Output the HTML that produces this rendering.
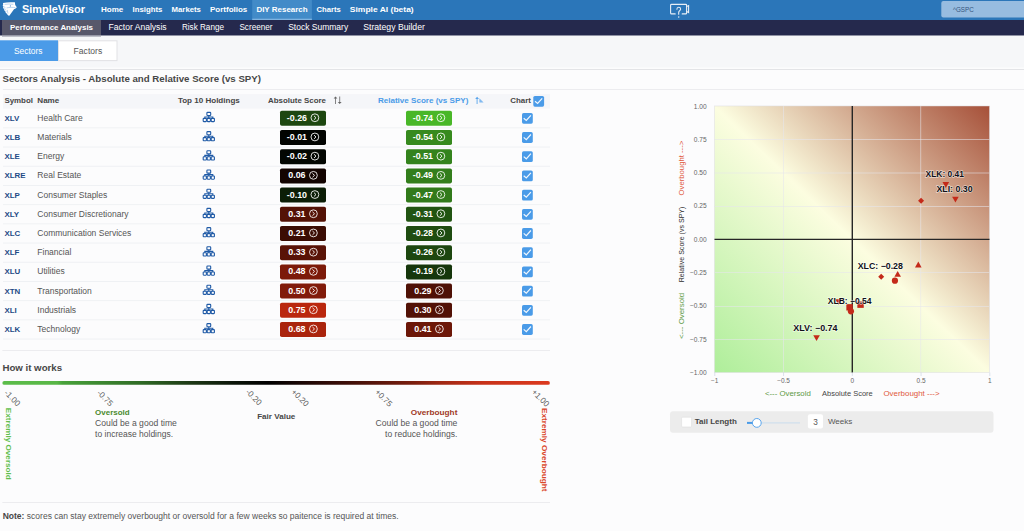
<!DOCTYPE html>
<html><head><meta charset="utf-8"><title>SimpleVisor - Performance Analysis</title>
<style>
html,body{margin:0;padding:0;width:1024px;height:531px;overflow:hidden;background:#fcfcfd;}
svg{position:absolute;left:0;top:0;display:block;font-family:"Liberation Sans", sans-serif;}
svg text{font-family:"Liberation Sans", sans-serif;}
</style></head><body>
<svg width="1024" height="531" viewBox="0 0 1024 531">
<rect x="0.00" y="0.00" width="1024.00" height="531.00" fill="#fcfcfd"/>
<rect x="0.00" y="0.00" width="1024.00" height="20.00" fill="#2b76b9"/>
<rect x="252.20" y="0.00" width="59.70" height="18.60" fill="#428bc8"/>
<rect x="252.20" y="18.60" width="59.70" height="1.40" fill="#7fb3e0"/>
<path d="M3.0,2.9 C6.5,2.1 11,2.0 14.9,2.3 L15.2,5.0 L16.8,7.3 L15.6,8.4 L14.0,9.2 L9.3,15.7 L8.2,15.6 L6.6,13.6 L5.6,12.6 L5.2,11.2 L4.2,10.2 L3.9,8.9 L3.0,7.8 L3.3,6.6 L2.7,5.4 L3.2,4.5 Z" fill="#ffffff"/>
<path d="M4.6,4.4 C7.5,3.9 10.5,3.9 13.4,4.3 M6.6,7.9 C9.5,7.3 12.8,7.1 15.5,7.7 M7.2,9.9 L8.0,13.6 M3.3,6.6 L5.3,7.4 M3.9,8.9 L5.8,9.4 M5.2,11.2 L6.6,11.3" stroke="#8fb8e3" stroke-width="0.6" fill="none"/><circle cx="10.4" cy="5.9" r="0.6" fill="#5e93cf"/>
<text x="22.00" y="13.20" font-size="11.4" fill="#ffffff" font-weight="bold" textLength="63.00" lengthAdjust="spacingAndGlyphs">SimpleVisor</text>
<text x="100.90" y="12.20" font-size="8.1" fill="#ffffff" font-weight="bold" textLength="22.40" lengthAdjust="spacingAndGlyphs">Home</text>
<text x="132.50" y="12.20" font-size="8.1" fill="#ffffff" font-weight="bold" textLength="29.80" lengthAdjust="spacingAndGlyphs">Insights</text>
<text x="171.60" y="12.20" font-size="8.1" fill="#ffffff" font-weight="bold" textLength="29.30" lengthAdjust="spacingAndGlyphs">Markets</text>
<text x="210.00" y="12.20" font-size="8.1" fill="#ffffff" font-weight="bold" textLength="37.30" lengthAdjust="spacingAndGlyphs">Portfolios</text>
<text x="256.40" y="12.20" font-size="8.1" fill="#ffffff" font-weight="bold" textLength="51.30" lengthAdjust="spacingAndGlyphs">DIY Research</text>
<text x="316.60" y="12.20" font-size="8.1" fill="#ffffff" font-weight="bold" textLength="24.20" lengthAdjust="spacingAndGlyphs">Charts</text>
<text x="349.80" y="12.20" font-size="8.1" fill="#ffffff" font-weight="bold" textLength="63.90" lengthAdjust="spacingAndGlyphs">Simple AI (beta)</text>
<g fill="none" stroke="#e8eef6" stroke-width="1.1" stroke-linecap="round"><path d="M675.2,13.9 L671.6,13.9 Q670.6,13.9 670.6,12.9 L670.6,5.3 Q670.6,4.4 671.6,4.4 L685.6,4.4 Q686.6,4.4 686.6,5.3 L686.6,12.9 Q686.6,13.9 685.6,13.9 L682.2,13.9"/><path d="M686.6,6.6 L688.6,5.6 L688.6,12.6 L686.6,11.6"/><path d="M676.9,9.2 Q676.9,7.2 678.7,7.2 Q680.6,7.2 680.6,9.1 Q680.6,10.3 679.4,10.9 Q678.7,11.3 678.7,12.4 L678.7,14.3"/></g><circle cx="678.7" cy="16.9" r="0.75" fill="#e8eef6"/>
<rect x="941.30" y="1.00" width="90.00" height="16.50" fill="#97bce0" rx="2"/>
<text x="953.00" y="12.10" font-size="6.8" fill="#34557d" textLength="20.80" lengthAdjust="spacingAndGlyphs">^GSPC</text>
<rect x="0.00" y="20.00" width="1024.00" height="15.70" fill="#25294d"/>
<rect x="2.00" y="20.00" width="99.00" height="15.70" fill="#58586b"/>
<text x="10.00" y="30.30" font-size="8" fill="#ffffff" font-weight="bold" textLength="83.00" lengthAdjust="spacingAndGlyphs">Performance Analysis</text>
<text x="108.50" y="30.30" font-size="8.3" fill="#ffffff" textLength="58.10" lengthAdjust="spacingAndGlyphs">Factor Analysis</text>
<text x="181.90" y="30.30" font-size="8.3" fill="#ffffff" textLength="42.10" lengthAdjust="spacingAndGlyphs">Risk Range</text>
<text x="239.40" y="30.30" font-size="8.3" fill="#ffffff" textLength="33.20" lengthAdjust="spacingAndGlyphs">Screener</text>
<text x="288.20" y="30.30" font-size="8.3" fill="#ffffff" textLength="60.00" lengthAdjust="spacingAndGlyphs">Stock Summary</text>
<text x="363.20" y="30.30" font-size="8.3" fill="#ffffff" textLength="61.70" lengthAdjust="spacingAndGlyphs">Strategy Builder</text>
<rect x="0.00" y="35.70" width="1024.00" height="31.80" fill="#f6f7f9"/>
<rect x="2.00" y="35.70" width="99.00" height="1.20" fill="#b9b9c2"/>
<rect x="0.00" y="69.00" width="1024.00" height="1.00" fill="#e3e4e7"/>
<rect x="0.00" y="40.30" width="58.00" height="20.70" fill="#4b9be8"/>
<rect x="58.50" y="40.80" width="58.50" height="19.80" fill="#ffffff" stroke="#e1e2e5" stroke-width="1"/>
<text x="14.00" y="53.80" font-size="8.5" fill="#ffffff" textLength="28.50" lengthAdjust="spacingAndGlyphs">Sectors</text>
<text x="73.60" y="53.80" font-size="8.5" fill="#555555" textLength="28.60" lengthAdjust="spacingAndGlyphs">Factors</text>
<text x="2.50" y="81.80" font-size="9.1" fill="#474747" font-weight="bold" textLength="258.50" lengthAdjust="spacingAndGlyphs">Sectors Analysis - Absolute and Relative Score (vs SPY)</text>
<rect x="2.90" y="89.00" width="1021.10" height="1.00" fill="#ececef"/>
<rect x="3.00" y="94.10" width="547.00" height="14.50" fill="#f5f6f9"/>
<text x="4.40" y="103.10" font-size="8" fill="#454545" font-weight="bold" textLength="28.60" lengthAdjust="spacingAndGlyphs">Symbol</text>
<text x="37.30" y="103.10" font-size="8" fill="#454545" font-weight="bold" textLength="22.00" lengthAdjust="spacingAndGlyphs">Name</text>
<text x="177.90" y="103.10" font-size="8" fill="#454545" font-weight="bold" textLength="61.90" lengthAdjust="spacingAndGlyphs">Top 10 Holdings</text>
<text x="268.00" y="103.10" font-size="8" fill="#454545" font-weight="bold" textLength="58.00" lengthAdjust="spacingAndGlyphs">Absolute Score</text>
<text x="377.90" y="103.10" font-size="8" fill="#4a9be8" font-weight="bold" textLength="90.50" lengthAdjust="spacingAndGlyphs">Relative Score (vs SPY)</text>
<text x="510.20" y="103.10" font-size="8" fill="#454545" font-weight="bold" textLength="20.70" lengthAdjust="spacingAndGlyphs">Chart</text>
<g stroke="#666" stroke-width="0.8" fill="#666"><line x1="335.5" y1="97.5" x2="335.5" y2="104"/><path d="M333.6,98.6 L335.5,96.4 L337.4,98.6 Z" stroke="none"/><line x1="339.7" y1="96.5" x2="339.7" y2="103"/><path d="M337.8,101.9 L339.7,104.1 L341.6,101.9 Z" stroke="none"/></g>
<g stroke="#5aa5ec" stroke-width="0.9" fill="#5aa5ec"><line x1="477.1" y1="97.8" x2="477.1" y2="104"/><path d="M475.2,98.9 L477.1,96.7 L479,98.9 Z" stroke="none"/><path d="M479.4,102.6 L479.4,98.2 L483.6,102.6 Z" stroke="none" opacity="0.75"/></g>
<rect x="533.30" y="95.90" width="10.80" height="10.80" fill="#4a9be8" rx="1.6"/>
<path d="M535.00,101.20 L537.60,103.40 L542.20,98.30" stroke="#ffffff" stroke-width="1.2" fill="none" opacity="0.92"/>
<text x="4.40" y="120.80" font-size="7.9" fill="#1f4a86" font-weight="bold">XLV</text>
<text x="37.30" y="120.80" font-size="8.5" fill="#555555">Health Care</text>
<g fill="none" stroke="#1f5aa6" stroke-width="1.1"><rect x="206.90" y="112.40" width="3.8" height="3.1" rx="0.7"/><rect x="203.20" y="118.40" width="3.2" height="3.2" rx="0.6"/><rect x="207.20" y="118.40" width="3.2" height="3.2" rx="0.6"/><rect x="211.20" y="118.40" width="3.2" height="3.2" rx="0.6"/><path d="M208.80,115.70 L208.80,118.40 M204.80,118.40 L204.80,117.00 L212.80,117.00 L212.80,118.40"/></g>
<rect x="280.00" y="110.80" width="46.00" height="15.00" fill="#1d4710" rx="1.8"/>
<text x="286.81" y="120.70" font-size="8.9" fill="#ffffff" font-weight="bold">-0.26</text>
<circle cx="314.89" cy="117.75" r="3.9" stroke="#ffffff" stroke-width="0.85" fill="none"/><path d="M313.99,115.85 L315.99,117.75 L313.99,119.65" stroke="#ffffff" stroke-width="0.9" fill="none"/>
<rect x="406.00" y="110.80" width="46.00" height="15.00" fill="#49b728" rx="1.8"/>
<text x="412.81" y="120.70" font-size="8.9" fill="#ffffff" font-weight="bold">-0.74</text>
<circle cx="440.89" cy="117.75" r="3.9" stroke="#ffffff" stroke-width="0.85" fill="none"/><path d="M439.99,115.85 L441.99,117.75 L439.99,119.65" stroke="#ffffff" stroke-width="0.9" fill="none"/>
<rect x="522.00" y="112.90" width="10.80" height="10.80" fill="#4a9be8" rx="1.6"/>
<path d="M523.70,118.20 L526.30,120.40 L530.90,115.30" stroke="#ffffff" stroke-width="1.2" fill="none" opacity="0.92"/>
<rect x="3.00" y="127.40" width="547.00" height="0.90" fill="#eef0f3"/>
<text x="4.40" y="140.00" font-size="7.9" fill="#1f4a86" font-weight="bold">XLB</text>
<text x="37.30" y="140.00" font-size="8.5" fill="#555555">Materials</text>
<g fill="none" stroke="#1f5aa6" stroke-width="1.1"><rect x="206.90" y="131.60" width="3.8" height="3.1" rx="0.7"/><rect x="203.20" y="137.60" width="3.2" height="3.2" rx="0.6"/><rect x="207.20" y="137.60" width="3.2" height="3.2" rx="0.6"/><rect x="211.20" y="137.60" width="3.2" height="3.2" rx="0.6"/><path d="M208.80,134.90 L208.80,137.60 M204.80,137.60 L204.80,136.20 L212.80,136.20 L212.80,137.60"/></g>
<rect x="280.00" y="130.00" width="46.00" height="15.00" fill="#020401" rx="1.8"/>
<text x="286.81" y="139.90" font-size="8.9" fill="#ffffff" font-weight="bold">-0.01</text>
<circle cx="314.89" cy="136.95" r="3.9" stroke="#ffffff" stroke-width="0.85" fill="none"/><path d="M313.99,135.05 L315.99,136.95 L313.99,138.85" stroke="#ffffff" stroke-width="0.9" fill="none"/>
<rect x="406.00" y="130.00" width="46.00" height="15.00" fill="#378a1e" rx="1.8"/>
<text x="412.81" y="139.90" font-size="8.9" fill="#ffffff" font-weight="bold">-0.54</text>
<circle cx="440.89" cy="136.95" r="3.9" stroke="#ffffff" stroke-width="0.85" fill="none"/><path d="M439.99,135.05 L441.99,136.95 L439.99,138.85" stroke="#ffffff" stroke-width="0.9" fill="none"/>
<rect x="522.00" y="132.10" width="10.80" height="10.80" fill="#4a9be8" rx="1.6"/>
<path d="M523.70,137.40 L526.30,139.60 L530.90,134.50" stroke="#ffffff" stroke-width="1.2" fill="none" opacity="0.92"/>
<rect x="3.00" y="146.60" width="547.00" height="0.90" fill="#eef0f3"/>
<text x="4.40" y="159.20" font-size="7.9" fill="#1f4a86" font-weight="bold">XLE</text>
<text x="37.30" y="159.20" font-size="8.5" fill="#555555">Energy</text>
<g fill="none" stroke="#1f5aa6" stroke-width="1.1"><rect x="206.90" y="150.80" width="3.8" height="3.1" rx="0.7"/><rect x="203.20" y="156.80" width="3.2" height="3.2" rx="0.6"/><rect x="207.20" y="156.80" width="3.2" height="3.2" rx="0.6"/><rect x="211.20" y="156.80" width="3.2" height="3.2" rx="0.6"/><path d="M208.80,154.10 L208.80,156.80 M204.80,156.80 L204.80,155.40 L212.80,155.40 L212.80,156.80"/></g>
<rect x="280.00" y="149.20" width="46.00" height="15.00" fill="#030702" rx="1.8"/>
<text x="286.81" y="159.10" font-size="8.9" fill="#ffffff" font-weight="bold">-0.02</text>
<circle cx="314.89" cy="156.15" r="3.9" stroke="#ffffff" stroke-width="0.85" fill="none"/><path d="M313.99,154.25 L315.99,156.15 L313.99,158.05" stroke="#ffffff" stroke-width="0.9" fill="none"/>
<rect x="406.00" y="149.20" width="46.00" height="15.00" fill="#34831d" rx="1.8"/>
<text x="412.81" y="159.10" font-size="8.9" fill="#ffffff" font-weight="bold">-0.51</text>
<circle cx="440.89" cy="156.15" r="3.9" stroke="#ffffff" stroke-width="0.85" fill="none"/><path d="M439.99,154.25 L441.99,156.15 L439.99,158.05" stroke="#ffffff" stroke-width="0.9" fill="none"/>
<rect x="522.00" y="151.30" width="10.80" height="10.80" fill="#4a9be8" rx="1.6"/>
<path d="M523.70,156.60 L526.30,158.80 L530.90,153.70" stroke="#ffffff" stroke-width="1.2" fill="none" opacity="0.92"/>
<rect x="3.00" y="165.80" width="547.00" height="0.90" fill="#eef0f3"/>
<text x="4.40" y="178.40" font-size="7.9" fill="#1f4a86" font-weight="bold">XLRE</text>
<text x="37.30" y="178.40" font-size="8.5" fill="#555555">Real Estate</text>
<g fill="none" stroke="#1f5aa6" stroke-width="1.1"><rect x="206.90" y="170.00" width="3.8" height="3.1" rx="0.7"/><rect x="203.20" y="176.00" width="3.2" height="3.2" rx="0.6"/><rect x="207.20" y="176.00" width="3.2" height="3.2" rx="0.6"/><rect x="211.20" y="176.00" width="3.2" height="3.2" rx="0.6"/><path d="M208.80,173.30 L208.80,176.00 M204.80,176.00 L204.80,174.60 L212.80,174.60 L212.80,176.00"/></g>
<rect x="280.00" y="168.40" width="46.00" height="15.00" fill="#130401" rx="1.8"/>
<text x="288.29" y="178.30" font-size="8.9" fill="#ffffff" font-weight="bold">0.06</text>
<circle cx="313.41" cy="175.35" r="3.9" stroke="#ffffff" stroke-width="0.85" fill="none"/><path d="M312.51,173.45 L314.51,175.35 L312.51,177.25" stroke="#ffffff" stroke-width="0.9" fill="none"/>
<rect x="406.00" y="168.40" width="46.00" height="15.00" fill="#337e1c" rx="1.8"/>
<text x="412.81" y="178.30" font-size="8.9" fill="#ffffff" font-weight="bold">-0.49</text>
<circle cx="440.89" cy="175.35" r="3.9" stroke="#ffffff" stroke-width="0.85" fill="none"/><path d="M439.99,173.45 L441.99,175.35 L439.99,177.25" stroke="#ffffff" stroke-width="0.9" fill="none"/>
<rect x="522.00" y="170.50" width="10.80" height="10.80" fill="#4a9be8" rx="1.6"/>
<path d="M523.70,175.80 L526.30,178.00 L530.90,172.90" stroke="#ffffff" stroke-width="1.2" fill="none" opacity="0.92"/>
<rect x="3.00" y="185.00" width="547.00" height="0.90" fill="#eef0f3"/>
<text x="4.40" y="197.60" font-size="7.9" fill="#1f4a86" font-weight="bold">XLP</text>
<text x="37.30" y="197.60" font-size="8.5" fill="#555555">Consumer Staples</text>
<g fill="none" stroke="#1f5aa6" stroke-width="1.1"><rect x="206.90" y="189.20" width="3.8" height="3.1" rx="0.7"/><rect x="203.20" y="195.20" width="3.2" height="3.2" rx="0.6"/><rect x="207.20" y="195.20" width="3.2" height="3.2" rx="0.6"/><rect x="211.20" y="195.20" width="3.2" height="3.2" rx="0.6"/><path d="M208.80,192.50 L208.80,195.20 M204.80,195.20 L204.80,193.80 L212.80,193.80 L212.80,195.20"/></g>
<rect x="280.00" y="187.60" width="46.00" height="15.00" fill="#0c1e07" rx="1.8"/>
<text x="286.81" y="197.50" font-size="8.9" fill="#ffffff" font-weight="bold">-0.10</text>
<circle cx="314.89" cy="194.55" r="3.9" stroke="#ffffff" stroke-width="0.85" fill="none"/><path d="M313.99,192.65 L315.99,194.55 L313.99,196.45" stroke="#ffffff" stroke-width="0.9" fill="none"/>
<rect x="406.00" y="187.60" width="46.00" height="15.00" fill="#317a1b" rx="1.8"/>
<text x="412.81" y="197.50" font-size="8.9" fill="#ffffff" font-weight="bold">-0.47</text>
<circle cx="440.89" cy="194.55" r="3.9" stroke="#ffffff" stroke-width="0.85" fill="none"/><path d="M439.99,192.65 L441.99,194.55 L439.99,196.45" stroke="#ffffff" stroke-width="0.9" fill="none"/>
<rect x="522.00" y="189.70" width="10.80" height="10.80" fill="#4a9be8" rx="1.6"/>
<path d="M523.70,195.00 L526.30,197.20 L530.90,192.10" stroke="#ffffff" stroke-width="1.2" fill="none" opacity="0.92"/>
<rect x="3.00" y="204.20" width="547.00" height="0.90" fill="#eef0f3"/>
<text x="4.40" y="216.80" font-size="7.9" fill="#1f4a86" font-weight="bold">XLY</text>
<text x="37.30" y="216.80" font-size="8.5" fill="#555555">Consumer Discretionary</text>
<g fill="none" stroke="#1f5aa6" stroke-width="1.1"><rect x="206.90" y="208.40" width="3.8" height="3.1" rx="0.7"/><rect x="203.20" y="214.40" width="3.2" height="3.2" rx="0.6"/><rect x="207.20" y="214.40" width="3.2" height="3.2" rx="0.6"/><rect x="211.20" y="214.40" width="3.2" height="3.2" rx="0.6"/><path d="M208.80,211.70 L208.80,214.40 M204.80,214.40 L204.80,213.00 L212.80,213.00 L212.80,214.40"/></g>
<rect x="280.00" y="206.80" width="46.00" height="15.00" fill="#541206" rx="1.8"/>
<text x="288.29" y="216.70" font-size="8.9" fill="#ffffff" font-weight="bold">0.31</text>
<circle cx="313.41" cy="213.75" r="3.9" stroke="#ffffff" stroke-width="0.85" fill="none"/><path d="M312.51,211.85 L314.51,213.75 L312.51,215.65" stroke="#ffffff" stroke-width="0.9" fill="none"/>
<rect x="406.00" y="206.80" width="46.00" height="15.00" fill="#215412" rx="1.8"/>
<text x="412.81" y="216.70" font-size="8.9" fill="#ffffff" font-weight="bold">-0.31</text>
<circle cx="440.89" cy="213.75" r="3.9" stroke="#ffffff" stroke-width="0.85" fill="none"/><path d="M439.99,211.85 L441.99,213.75 L439.99,215.65" stroke="#ffffff" stroke-width="0.9" fill="none"/>
<rect x="522.00" y="208.90" width="10.80" height="10.80" fill="#4a9be8" rx="1.6"/>
<path d="M523.70,214.20 L526.30,216.40 L530.90,211.30" stroke="#ffffff" stroke-width="1.2" fill="none" opacity="0.92"/>
<rect x="3.00" y="223.40" width="547.00" height="0.90" fill="#eef0f3"/>
<text x="4.40" y="236.00" font-size="7.9" fill="#1f4a86" font-weight="bold">XLC</text>
<text x="37.30" y="236.00" font-size="8.5" fill="#555555">Communication Services</text>
<g fill="none" stroke="#1f5aa6" stroke-width="1.1"><rect x="206.90" y="227.60" width="3.8" height="3.1" rx="0.7"/><rect x="203.20" y="233.60" width="3.2" height="3.2" rx="0.6"/><rect x="207.20" y="233.60" width="3.2" height="3.2" rx="0.6"/><rect x="211.20" y="233.60" width="3.2" height="3.2" rx="0.6"/><path d="M208.80,230.90 L208.80,233.60 M204.80,233.60 L204.80,232.20 L212.80,232.20 L212.80,233.60"/></g>
<rect x="280.00" y="226.00" width="46.00" height="15.00" fill="#3b0d04" rx="1.8"/>
<text x="288.29" y="235.90" font-size="8.9" fill="#ffffff" font-weight="bold">0.21</text>
<circle cx="313.41" cy="232.95" r="3.9" stroke="#ffffff" stroke-width="0.85" fill="none"/><path d="M312.51,231.05 L314.51,232.95 L312.51,234.85" stroke="#ffffff" stroke-width="0.9" fill="none"/>
<rect x="406.00" y="226.00" width="46.00" height="15.00" fill="#1f4c11" rx="1.8"/>
<text x="412.81" y="235.90" font-size="8.9" fill="#ffffff" font-weight="bold">-0.28</text>
<circle cx="440.89" cy="232.95" r="3.9" stroke="#ffffff" stroke-width="0.85" fill="none"/><path d="M439.99,231.05 L441.99,232.95 L439.99,234.85" stroke="#ffffff" stroke-width="0.9" fill="none"/>
<rect x="522.00" y="228.10" width="10.80" height="10.80" fill="#4a9be8" rx="1.6"/>
<path d="M523.70,233.40 L526.30,235.60 L530.90,230.50" stroke="#ffffff" stroke-width="1.2" fill="none" opacity="0.92"/>
<rect x="3.00" y="242.60" width="547.00" height="0.90" fill="#eef0f3"/>
<text x="4.40" y="255.20" font-size="7.9" fill="#1f4a86" font-weight="bold">XLF</text>
<text x="37.30" y="255.20" font-size="8.5" fill="#555555">Financial</text>
<g fill="none" stroke="#1f5aa6" stroke-width="1.1"><rect x="206.90" y="246.80" width="3.8" height="3.1" rx="0.7"/><rect x="203.20" y="252.80" width="3.2" height="3.2" rx="0.6"/><rect x="207.20" y="252.80" width="3.2" height="3.2" rx="0.6"/><rect x="211.20" y="252.80" width="3.2" height="3.2" rx="0.6"/><path d="M208.80,250.10 L208.80,252.80 M204.80,252.80 L204.80,251.40 L212.80,251.40 L212.80,252.80"/></g>
<rect x="280.00" y="245.20" width="46.00" height="15.00" fill="#591307" rx="1.8"/>
<text x="288.29" y="255.10" font-size="8.9" fill="#ffffff" font-weight="bold">0.33</text>
<circle cx="313.41" cy="252.15" r="3.9" stroke="#ffffff" stroke-width="0.85" fill="none"/><path d="M312.51,250.25 L314.51,252.15 L312.51,254.05" stroke="#ffffff" stroke-width="0.9" fill="none"/>
<rect x="406.00" y="245.20" width="46.00" height="15.00" fill="#1d4710" rx="1.8"/>
<text x="412.81" y="255.10" font-size="8.9" fill="#ffffff" font-weight="bold">-0.26</text>
<circle cx="440.89" cy="252.15" r="3.9" stroke="#ffffff" stroke-width="0.85" fill="none"/><path d="M439.99,250.25 L441.99,252.15 L439.99,254.05" stroke="#ffffff" stroke-width="0.9" fill="none"/>
<rect x="522.00" y="247.30" width="10.80" height="10.80" fill="#4a9be8" rx="1.6"/>
<path d="M523.70,252.60 L526.30,254.80 L530.90,249.70" stroke="#ffffff" stroke-width="1.2" fill="none" opacity="0.92"/>
<rect x="3.00" y="261.80" width="547.00" height="0.90" fill="#eef0f3"/>
<text x="4.40" y="274.40" font-size="7.9" fill="#1f4a86" font-weight="bold">XLU</text>
<text x="37.30" y="274.40" font-size="8.5" fill="#555555">Utilities</text>
<g fill="none" stroke="#1f5aa6" stroke-width="1.1"><rect x="206.90" y="266.00" width="3.8" height="3.1" rx="0.7"/><rect x="203.20" y="272.00" width="3.2" height="3.2" rx="0.6"/><rect x="207.20" y="272.00" width="3.2" height="3.2" rx="0.6"/><rect x="211.20" y="272.00" width="3.2" height="3.2" rx="0.6"/><path d="M208.80,269.30 L208.80,272.00 M204.80,272.00 L204.80,270.60 L212.80,270.60 L212.80,272.00"/></g>
<rect x="280.00" y="264.40" width="46.00" height="15.00" fill="#7c1a09" rx="1.8"/>
<text x="288.29" y="274.30" font-size="8.9" fill="#ffffff" font-weight="bold">0.48</text>
<circle cx="313.41" cy="271.35" r="3.9" stroke="#ffffff" stroke-width="0.85" fill="none"/><path d="M312.51,269.45 L314.51,271.35 L312.51,273.25" stroke="#ffffff" stroke-width="0.9" fill="none"/>
<rect x="406.00" y="264.40" width="46.00" height="15.00" fill="#16360c" rx="1.8"/>
<text x="412.81" y="274.30" font-size="8.9" fill="#ffffff" font-weight="bold">-0.19</text>
<circle cx="440.89" cy="271.35" r="3.9" stroke="#ffffff" stroke-width="0.85" fill="none"/><path d="M439.99,269.45 L441.99,271.35 L439.99,273.25" stroke="#ffffff" stroke-width="0.9" fill="none"/>
<rect x="522.00" y="266.50" width="10.80" height="10.80" fill="#4a9be8" rx="1.6"/>
<path d="M523.70,271.80 L526.30,274.00 L530.90,268.90" stroke="#ffffff" stroke-width="1.2" fill="none" opacity="0.92"/>
<rect x="3.00" y="281.00" width="547.00" height="0.90" fill="#eef0f3"/>
<text x="4.40" y="293.60" font-size="7.9" fill="#1f4a86" font-weight="bold">XTN</text>
<text x="37.30" y="293.60" font-size="8.5" fill="#555555">Transportation</text>
<g fill="none" stroke="#1f5aa6" stroke-width="1.1"><rect x="206.90" y="285.20" width="3.8" height="3.1" rx="0.7"/><rect x="203.20" y="291.20" width="3.2" height="3.2" rx="0.6"/><rect x="207.20" y="291.20" width="3.2" height="3.2" rx="0.6"/><rect x="211.20" y="291.20" width="3.2" height="3.2" rx="0.6"/><path d="M208.80,288.50 L208.80,291.20 M204.80,291.20 L204.80,289.80 L212.80,289.80 L212.80,291.20"/></g>
<rect x="280.00" y="283.60" width="46.00" height="15.00" fill="#811b0a" rx="1.8"/>
<text x="288.29" y="293.50" font-size="8.9" fill="#ffffff" font-weight="bold">0.50</text>
<circle cx="313.41" cy="290.55" r="3.9" stroke="#ffffff" stroke-width="0.85" fill="none"/><path d="M312.51,288.65 L314.51,290.55 L312.51,292.45" stroke="#ffffff" stroke-width="0.9" fill="none"/>
<rect x="406.00" y="283.60" width="46.00" height="15.00" fill="#4f1106" rx="1.8"/>
<text x="414.29" y="293.50" font-size="8.9" fill="#ffffff" font-weight="bold">0.29</text>
<circle cx="439.41" cy="290.55" r="3.9" stroke="#ffffff" stroke-width="0.85" fill="none"/><path d="M438.51,288.65 L440.51,290.55 L438.51,292.45" stroke="#ffffff" stroke-width="0.9" fill="none"/>
<rect x="522.00" y="285.70" width="10.80" height="10.80" fill="#4a9be8" rx="1.6"/>
<path d="M523.70,291.00 L526.30,293.20 L530.90,288.10" stroke="#ffffff" stroke-width="1.2" fill="none" opacity="0.92"/>
<rect x="3.00" y="300.20" width="547.00" height="0.90" fill="#eef0f3"/>
<text x="4.40" y="312.80" font-size="7.9" fill="#1f4a86" font-weight="bold">XLI</text>
<text x="37.30" y="312.80" font-size="8.5" fill="#555555">Industrials</text>
<g fill="none" stroke="#1f5aa6" stroke-width="1.1"><rect x="206.90" y="304.40" width="3.8" height="3.1" rx="0.7"/><rect x="203.20" y="310.40" width="3.2" height="3.2" rx="0.6"/><rect x="207.20" y="310.40" width="3.2" height="3.2" rx="0.6"/><rect x="211.20" y="310.40" width="3.2" height="3.2" rx="0.6"/><path d="M208.80,307.70 L208.80,310.40 M204.80,310.40 L204.80,309.00 L212.80,309.00 L212.80,310.40"/></g>
<rect x="280.00" y="302.80" width="46.00" height="15.00" fill="#ba270e" rx="1.8"/>
<text x="288.29" y="312.70" font-size="8.9" fill="#ffffff" font-weight="bold">0.75</text>
<circle cx="313.41" cy="309.75" r="3.9" stroke="#ffffff" stroke-width="0.85" fill="none"/><path d="M312.51,307.85 L314.51,309.75 L312.51,311.65" stroke="#ffffff" stroke-width="0.9" fill="none"/>
<rect x="406.00" y="302.80" width="46.00" height="15.00" fill="#521106" rx="1.8"/>
<text x="414.29" y="312.70" font-size="8.9" fill="#ffffff" font-weight="bold">0.30</text>
<circle cx="439.41" cy="309.75" r="3.9" stroke="#ffffff" stroke-width="0.85" fill="none"/><path d="M438.51,307.85 L440.51,309.75 L438.51,311.65" stroke="#ffffff" stroke-width="0.9" fill="none"/>
<rect x="522.00" y="304.90" width="10.80" height="10.80" fill="#4a9be8" rx="1.6"/>
<path d="M523.70,310.20 L526.30,312.40 L530.90,307.30" stroke="#ffffff" stroke-width="1.2" fill="none" opacity="0.92"/>
<rect x="3.00" y="319.40" width="547.00" height="0.90" fill="#eef0f3"/>
<text x="4.40" y="332.00" font-size="7.9" fill="#1f4a86" font-weight="bold">XLK</text>
<text x="37.30" y="332.00" font-size="8.5" fill="#555555">Technology</text>
<g fill="none" stroke="#1f5aa6" stroke-width="1.1"><rect x="206.90" y="323.60" width="3.8" height="3.1" rx="0.7"/><rect x="203.20" y="329.60" width="3.2" height="3.2" rx="0.6"/><rect x="207.20" y="329.60" width="3.2" height="3.2" rx="0.6"/><rect x="211.20" y="329.60" width="3.2" height="3.2" rx="0.6"/><path d="M208.80,326.90 L208.80,329.60 M204.80,329.60 L204.80,328.20 L212.80,328.20 L212.80,329.60"/></g>
<rect x="280.00" y="322.00" width="46.00" height="15.00" fill="#aa240d" rx="1.8"/>
<text x="288.29" y="331.90" font-size="8.9" fill="#ffffff" font-weight="bold">0.68</text>
<circle cx="313.41" cy="328.95" r="3.9" stroke="#ffffff" stroke-width="0.85" fill="none"/><path d="M312.51,327.05 L314.51,328.95 L312.51,330.85" stroke="#ffffff" stroke-width="0.9" fill="none"/>
<rect x="406.00" y="322.00" width="46.00" height="15.00" fill="#6c1708" rx="1.8"/>
<text x="414.29" y="331.90" font-size="8.9" fill="#ffffff" font-weight="bold">0.41</text>
<circle cx="439.41" cy="328.95" r="3.9" stroke="#ffffff" stroke-width="0.85" fill="none"/><path d="M438.51,327.05 L440.51,328.95 L438.51,330.85" stroke="#ffffff" stroke-width="0.9" fill="none"/>
<rect x="522.00" y="324.10" width="10.80" height="10.80" fill="#4a9be8" rx="1.6"/>
<path d="M523.70,329.40 L526.30,331.60 L530.90,326.50" stroke="#ffffff" stroke-width="1.2" fill="none" opacity="0.92"/>
<rect x="3.00" y="338.60" width="547.00" height="0.90" fill="#eef0f3"/>
<rect x="2.40" y="350.00" width="547.60" height="1.00" fill="#ececef"/>
<text x="2.40" y="371.10" font-size="9.3" fill="#474747" font-weight="bold" textLength="59.70" lengthAdjust="spacingAndGlyphs">How it works</text>
<defs><linearGradient id="hb" x1="0" x2="1" y1="0" y2="0"><stop offset="0" stop-color="#5cbd4a"/><stop offset="0.10" stop-color="#58b646"/><stop offset="0.11" stop-color="#48a23a"/><stop offset="0.25" stop-color="#306c26"/><stop offset="0.34" stop-color="#1e3a16"/><stop offset="0.42" stop-color="#0c160a"/><stop offset="0.485" stop-color="#000000"/><stop offset="0.53" stop-color="#140504"/><stop offset="0.63" stop-color="#3e0e08"/><stop offset="0.75" stop-color="#7a1e0e"/><stop offset="0.80" stop-color="#a02814"/><stop offset="0.88" stop-color="#c8321a"/><stop offset="1" stop-color="#dc3a1f"/></linearGradient></defs>
<rect x="2.40" y="381.00" width="547.50" height="3.80" fill="url(#hb)" rx="1.9"/>
<text x="0" y="0" font-size="8.2" fill="#5e5e5e" transform="translate(3.8,393.4) rotate(45)">-1.00</text>
<text x="0" y="0" font-size="8.2" fill="#5e5e5e" transform="translate(96.6,393.4) rotate(45)">-0.75</text>
<text x="0" y="0" font-size="8.2" fill="#5e5e5e" transform="translate(245.2,392.4) rotate(45)">-0.20</text>
<text x="0" y="0" font-size="8.2" fill="#5e5e5e" transform="translate(290.8,392.4) rotate(45)">+0.20</text>
<text x="0" y="0" font-size="8.2" fill="#5e5e5e" transform="translate(374.4,392.6) rotate(45)">+0.75</text>
<text x="0" y="0" font-size="8.2" fill="#5e5e5e" transform="translate(531.2,392.6) rotate(45)">+1.00</text>
<text x="0" y="0" font-size="8" font-weight="bold" fill="#62bf4d" transform="translate(6.0,407.8) rotate(90)" textLength="72" lengthAdjust="spacingAndGlyphs">Extremly Oversold</text>
<text x="0" y="0" font-size="8" font-weight="bold" fill="#da472a" transform="translate(542.0,408) rotate(90)" textLength="83.5" lengthAdjust="spacingAndGlyphs">Extremly Overbought</text>
<text x="95.10" y="415.00" font-size="8" fill="#4a8a2e" font-weight="bold" textLength="34.50" lengthAdjust="spacingAndGlyphs">Oversold</text>
<text x="95.10" y="426.30" font-size="8.5" fill="#555555" textLength="81.80" lengthAdjust="spacingAndGlyphs">Could be a good time</text>
<text x="95.10" y="436.80" font-size="8.5" fill="#555555">to increase holdings.</text>
<text x="257.20" y="419.00" font-size="8" fill="#474747" font-weight="bold" textLength="38.10" lengthAdjust="spacingAndGlyphs">Fair Value</text>
<text x="457.40" y="414.80" font-size="8" fill="#a0391f" font-weight="bold" text-anchor="end" textLength="46.60" lengthAdjust="spacingAndGlyphs">Overbought</text>
<text x="457.40" y="425.80" font-size="8.5" fill="#555555" text-anchor="end" textLength="81.80" lengthAdjust="spacingAndGlyphs">Could be a good time</text>
<text x="457.40" y="436.80" font-size="8.5" fill="#555555" text-anchor="end" textLength="72.40" lengthAdjust="spacingAndGlyphs">to reduce holdings.</text>
<rect x="2.40" y="502.00" width="547.60" height="1.00" fill="#ececef"/>
<text x="2.7" y="519" font-size="8.5" fill="#555555" textLength="396" lengthAdjust="spacingAndGlyphs"><tspan font-weight="bold" fill="#474747">Note:</tspan> scores can stay extremely overbought or oversold for a few weeks so paitence is required at times.</text>
<defs><linearGradient id="pg" gradientUnits="userSpaceOnUse" x1="714.5" y1="372.5" x2="980.77" y2="97.64"><stop offset="0" stop-color="#aeee9a"/><stop offset="0.5" stop-color="#fcfde0"/><stop offset="1" stop-color="#a65039"/></linearGradient></defs>
<rect x="714.50" y="106.00" width="275.00" height="266.50" fill="url(#pg)"/>
<line x1="783.50" y1="106.00" x2="783.50" y2="372.50" stroke="rgba(230,230,236,0.55)" stroke-width="1"/>
<line x1="920.70" y1="106.00" x2="920.70" y2="372.50" stroke="rgba(230,230,236,0.55)" stroke-width="1"/>
<line x1="714.50" y1="139.50" x2="989.50" y2="139.50" stroke="rgba(230,230,236,0.55)" stroke-width="1"/>
<line x1="714.50" y1="173.00" x2="989.50" y2="173.00" stroke="rgba(230,230,236,0.55)" stroke-width="1"/>
<line x1="714.50" y1="206.50" x2="989.50" y2="206.50" stroke="rgba(230,230,236,0.55)" stroke-width="1"/>
<line x1="714.50" y1="272.50" x2="989.50" y2="272.50" stroke="rgba(230,230,236,0.55)" stroke-width="1"/>
<line x1="714.50" y1="306.50" x2="989.50" y2="306.50" stroke="rgba(230,230,236,0.55)" stroke-width="1"/>
<line x1="714.50" y1="339.50" x2="989.50" y2="339.50" stroke="rgba(230,230,236,0.55)" stroke-width="1"/>
<rect x="714.50" y="106.00" width="275.00" height="266.50" fill="none" stroke="rgba(220,220,225,0.6)" stroke-width="0.8"/>
<line x1="852.30" y1="106.00" x2="852.30" y2="372.50" stroke="#262626" stroke-width="1.4"/>
<line x1="714.50" y1="239.40" x2="989.50" y2="239.40" stroke="#262626" stroke-width="1.4"/>
<text x="706.60" y="108.50" font-size="6.6" fill="#666666" text-anchor="end">1.00</text>
<text x="706.60" y="141.80" font-size="6.6" fill="#666666" text-anchor="end">0.75</text>
<text x="706.60" y="175.10" font-size="6.6" fill="#666666" text-anchor="end">0.50</text>
<text x="706.60" y="208.40" font-size="6.6" fill="#666666" text-anchor="end">0.25</text>
<text x="706.60" y="241.70" font-size="6.6" fill="#666666" text-anchor="end">0.00</text>
<text x="706.60" y="275.00" font-size="6.6" fill="#666666" text-anchor="end">−0.25</text>
<text x="706.60" y="308.30" font-size="6.6" fill="#666666" text-anchor="end">−0.50</text>
<text x="706.60" y="341.60" font-size="6.6" fill="#666666" text-anchor="end">−0.75</text>
<text x="706.60" y="374.90" font-size="6.6" fill="#666666" text-anchor="end">−1.00</text>
<text x="714.80" y="382.90" font-size="6.5" fill="#666666" text-anchor="middle">−1</text>
<line x1="714.80" y1="372.50" x2="714.80" y2="376.00" stroke="rgba(200,210,225,0.8)" stroke-width="0.8"/>
<text x="783.55" y="382.90" font-size="6.5" fill="#666666" text-anchor="middle">−0.5</text>
<line x1="783.55" y1="372.50" x2="783.55" y2="376.00" stroke="rgba(200,210,225,0.8)" stroke-width="0.8"/>
<text x="852.30" y="382.90" font-size="6.5" fill="#666666" text-anchor="middle">0</text>
<line x1="852.30" y1="372.50" x2="852.30" y2="376.00" stroke="rgba(200,210,225,0.8)" stroke-width="0.8"/>
<text x="921.05" y="382.90" font-size="6.5" fill="#666666" text-anchor="middle">0.5</text>
<line x1="921.05" y1="372.50" x2="921.05" y2="376.00" stroke="rgba(200,210,225,0.8)" stroke-width="0.8"/>
<text x="989.80" y="382.90" font-size="6.5" fill="#666666" text-anchor="middle">1</text>
<line x1="989.80" y1="372.50" x2="989.80" y2="376.00" stroke="rgba(200,210,225,0.8)" stroke-width="0.8"/>
<text x="0" y="0" font-size="6.9" fill="#e0583c" transform="translate(683.6,195.5) rotate(-90)" textLength="54.8" lengthAdjust="spacingAndGlyphs">Overbought ---&gt;</text>
<text x="0" y="0" font-size="7.2" fill="#2c2c2c" transform="translate(683.8,282.3) rotate(-90)" textLength="75.7" lengthAdjust="spacingAndGlyphs">Relative Score (vs SPY)</text>
<text x="0" y="0" font-size="6.9" fill="#5d9a45" transform="translate(683.6,339) rotate(-90)" textLength="46.2" lengthAdjust="spacingAndGlyphs">&lt;--- Oversold</text>
<text x="764.90" y="395.90" font-size="7.6" fill="#5d9a45" textLength="45.90" lengthAdjust="spacingAndGlyphs">&lt;--- Oversold</text>
<text x="822.00" y="395.90" font-size="7.6" fill="#444444" textLength="50.70" lengthAdjust="spacingAndGlyphs">Absolute Score</text>
<text x="883.40" y="395.90" font-size="7.6" fill="#e0583c" textLength="56.20" lengthAdjust="spacingAndGlyphs">Overbought ---&gt;</text>
<path d="M813.25,335.27 L819.85,335.27 L816.55,341.07 Z" fill="#c42a1a"/>
<circle cx="850.92" cy="311.33" r="3.1" fill="#c42a1a"/>
<rect x="846.35" y="304.13" width="6.4" height="6.4" fill="#c42a1a"/>
<rect x="857.35" y="301.47" width="6.4" height="6.4" fill="#c42a1a"/>
<path d="M835.25,299.30 L841.85,299.30 L838.55,305.10 Z" fill="#c42a1a"/>
<circle cx="894.92" cy="280.69" r="3.1" fill="#c42a1a"/>
<path d="M881.17,273.70 L884.17,276.70 L881.17,279.70 L878.17,276.70 Z" fill="#c42a1a"/>
<path d="M897.67,270.93 L900.97,276.73 L894.38,276.73 Z" fill="#c42a1a"/>
<path d="M918.30,261.61 L921.60,267.41 L915.00,267.41 Z" fill="#c42a1a"/>
<path d="M921.05,197.77 L924.05,200.77 L921.05,203.77 L918.05,200.77 Z" fill="#c42a1a"/>
<path d="M952.12,196.74 L958.72,196.74 L955.42,202.54 Z" fill="#c42a1a"/>
<path d="M942.50,182.09 L949.10,182.09 L945.80,187.89 Z" fill="#c42a1a"/>
<text x="925.6" y="177.3" font-size="8.6" font-weight="bold" fill="#101018" stroke="rgba(255,255,255,0.6)" stroke-width="1.3" paint-order="stroke" stroke-linejoin="round" textLength="38.3" lengthAdjust="spacingAndGlyphs">XLK: 0.41</text>
<text x="936.4" y="191.7" font-size="8.6" font-weight="bold" fill="#101018" stroke="rgba(255,255,255,0.6)" stroke-width="1.3" paint-order="stroke" stroke-linejoin="round" textLength="36.3" lengthAdjust="spacingAndGlyphs">XLI: 0.30</text>
<text x="857.7" y="268.8" font-size="8.6" font-weight="bold" fill="#101018" stroke="rgba(255,255,255,0.6)" stroke-width="1.3" paint-order="stroke" stroke-linejoin="round" textLength="45.2" lengthAdjust="spacingAndGlyphs">XLC: −0.28</text>
<text x="827.8" y="304.2" font-size="8.6" font-weight="bold" fill="#101018" stroke="rgba(255,255,255,0.6)" stroke-width="1.3" paint-order="stroke" stroke-linejoin="round" textLength="43.7" lengthAdjust="spacingAndGlyphs">XLB: −0.54</text>
<text x="793.2" y="331.3" font-size="8.6" font-weight="bold" fill="#101018" stroke="rgba(255,255,255,0.6)" stroke-width="1.3" paint-order="stroke" stroke-linejoin="round" textLength="44.4" lengthAdjust="spacingAndGlyphs">XLV: −0.74</text>
<rect x="670.00" y="411.30" width="323.50" height="21.40" fill="#ececec" rx="3"/>
<rect x="681.60" y="417.20" width="10.00" height="9.80" fill="#ffffff" rx="1" stroke="#dedede" stroke-width="0.6"/>
<text x="694.80" y="424.00" font-size="7.8" fill="#474747" font-weight="bold" textLength="42.00" lengthAdjust="spacingAndGlyphs">Tail Length</text>
<line x1="757.00" y1="422.90" x2="800.00" y2="422.90" stroke="#c9dced" stroke-width="1"/>
<line x1="747.00" y1="422.90" x2="757.00" y2="422.90" stroke="#4a9be8" stroke-width="2"/>
<circle cx="756.8" cy="422.9" r="4.4" fill="#ffffff" stroke="#5aa5ec" stroke-width="1"/>
<rect x="807.90" y="414.30" width="15.10" height="14.10" fill="#ffffff" rx="2"/>
<text x="815.50" y="424.60" font-size="8.2" fill="#555555" text-anchor="middle">3</text>
<text x="827.90" y="424.00" font-size="8" fill="#555555" textLength="24.40" lengthAdjust="spacingAndGlyphs">Weeks</text>
</svg>
</body></html>
